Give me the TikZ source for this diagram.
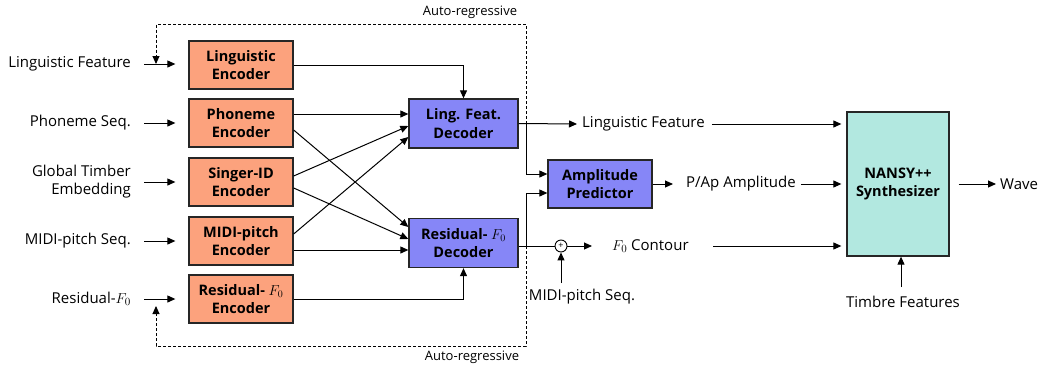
\documentclass[tikz,border=0pt]{standalone}
\usepackage[no-math]{fontspec}
\setmainfont{Open Sans}
\usetikzlibrary{arrows.meta,calc}
\definecolor{encc}{HTML}{FCA27D}
\definecolor{decc}{HTML}{8686F7}
\definecolor{sync}{HTML}{B2E8E0}
\tikzset{
 box/.style={draw=black!85, line width=1.3pt, font=\fontsize{14.5}{18.5}\selectfont\bfseries, align=center, inner sep=0pt, minimum width=104pt, minimum height=48pt},
 encbox/.style={box, fill=encc},
 decbox/.style={box, fill=decc, minimum width=109pt, minimum height=49pt},
 synbox/.style={box, fill=sync, minimum width=102pt, minimum height=144pt},
 lbl/.style={font=\fontsize{15}{18}\selectfont, inner sep=0pt, align=right},
 small/.style={font=\fontsize{13}{15}\selectfont, inner sep=0pt},
 arr/.style={-{Triangle[length=8pt,width=7pt]}, line width=1pt},
 ln/.style={line width=1pt},
 dsh/.style={dash pattern=on 3pt off 2pt, line width=0.9pt},
}
\begin{document}
\begin{tikzpicture}[x=1pt,y=-1pt]
\useasboundingbox (0,0) rectangle (1040,364);
% encoders
\node[encbox] (le) at (241,65) {Linguistic\\Encoder};
\node[encbox] (pe) at (241,123) {Phoneme\\Encoder};
\node[encbox] (se) at (241,182) {Singer-ID\\Encoder};
\node[encbox] (me) at (241,241) {MIDI-pitch\\Encoder};
\node[encbox] (re) at (241,299) {Residual- $F_0$\\Encoder};
% decoders
\node[decbox] (lfd) at (463.5,123.5) {Ling. Feat.\\Decoder};
\node[decbox] (rfd) at (463.5,243) {Residual- $F_0$\\Decoder};
\node[box, fill=decc] (ap) at (600,184) {Amplitude\\Predictor};
\node[synbox] (ns) at (898,184) {NANSY++\\Synthesizer};
% input labels
\node[lbl, anchor=east] (ilf) at (131,64) {Linguistic Feature};
\node[lbl, anchor=east] (ips) at (131,123) {Phoneme Seq.};
\node[lbl, anchor=east] (igt) at (131,182) {Global Timber\\Embedding};
\node[lbl, anchor=east] (imp) at (131,241) {MIDI-pitch Seq.};
\node[lbl, anchor=east] (irf) at (131,299) {Residual-$F_0$};
\foreach \a/\b in {ilf/le,ips/pe,igt/se,imp/me,irf/re}
  \draw[arr] (\a.east -| 144,0) -- ($(\a.east -| \b.west)+(-13,0)$);
% encoder -> decoder
\draw[arr] (le.east) -| (lfd.north);
\draw[arr] ($(pe.east)+(0,-9)$) coordinate (p1) -- (p1 -| lfd.west);
\draw[arr] ($(pe.east)+(0,7)$) -- ($(rfd.west)+(0,-16)$);
\draw[arr] ($(se.east)+(0,-6)$) -- ($(lfd.west)+(0,2.5)$);
\draw[arr] ($(se.east)+(0,6)$) -- ($(rfd.west)+(0,-4)$);
\draw[arr] ($(me.east)+(0,-7)$) -- ($(lfd.west)+(0,13.5)$);
\draw[arr] ($(me.east)+(0,9)$) coordinate (m1) -- (m1 -| rfd.west);
\draw[arr] (re.east) -| (rfd.south);
% outputs
\node[lbl, anchor=west] (lfo) at (582,124) {Linguistic Feature};
\node[lbl, anchor=west] (ampo) at (686,184) {P/Ap Amplitude};
\node[lbl, anchor=west] (f0) at (612,246) {$F_0$ Contour};
\node[lbl] (mp2) at (582,297) {MIDI-pitch Seq.};
\node[lbl, anchor=west] (wave) at (1000,184) {Wave};
\node[lbl] (tf) at (903,302) {Timbre Features};
\node[draw, circle, line width=0.9pt, minimum size=12pt, inner sep=0pt, font=\fontsize{9}{9}\selectfont] (pl) at (561,246) {+};
\coordinate (j1) at (526,123.5);
\coordinate (j2) at (526,246);
\draw[arr] (lfd.east) -- ($(lfo.west)+(-5,0)$);
\draw[arr] (j1) |- ($(ap.west)+(0,-10)$);
\draw[ln] ($(rfd.east)+(0,3)$) -- (pl.west);
\draw[arr] (j2) |- ($(ap.west)+(0,9)$);
\draw[arr] (pl.east) -- ($(f0.west)+(-20,0)$);
\draw[arr] (pl.south |- 0,283) -- (pl.south);
\draw[arr] (ap.east) -- ($(ampo.west)+(-13,0)$);
\draw[arr] ($(lfo.east)+(7,0)$) -- ($(lfo.east -| ns.west)+(-5,0)$);
\draw[arr] ($(ampo.east)+(5,0)$) -- ($(ampo.east -| ns.west)+(-5,0)$);
\draw[arr] (713,246) -- ($(f0.east -| ns.west)+(-5,0)$);
\draw[arr] ($(ns.east)+(9,0)$) -- ($(wave.west)+(-4,0)$);
\draw[arr] (901,287) -- (901,0 |- ns.south);
% auto-regressive loops
\node[small] (ar1) at (470,12) {Auto-regressive};
\node[small] (ar2) at (472,357) {Auto-regressive};
\draw[dsh] (j1) -- (526,24) -- (156,24) -- (156,56);
\draw[arr, line width=0.9pt] (156,55) -- (156,64);
\draw[dsh] (j2) -- (526,346) -- (156,346) -- (156,314);
\draw[arr, line width=0.9pt] (156,315) -- (156,306);
\end{tikzpicture}
\end{document}
